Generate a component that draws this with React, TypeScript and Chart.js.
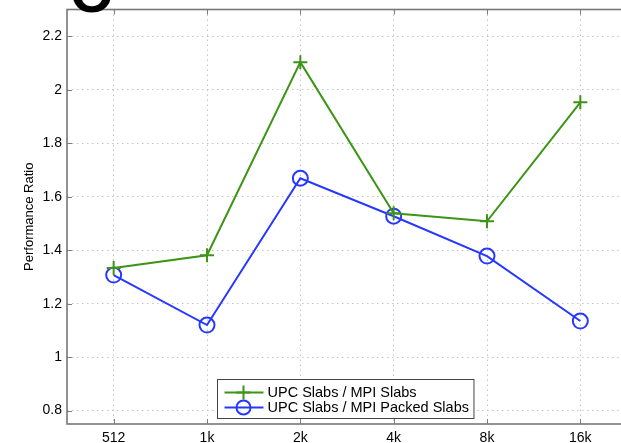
import { useEffect, useRef } from "react";
import { Chart, registerables } from "chart.js";
Chart.register(...registerables);

const categories = ["512", "1k", "2k", "4k", "8k", "16k"];
const upcVsMpiSlabs = [1.333, 1.381, 2.103, 1.538, 1.508, 1.953];
const upcVsMpiPackedSlabs = [1.307, 1.12, 1.669, 1.527, 1.378, 1.135];
const yTicks = [0.8, 1, 1.2, 1.4, 1.6, 1.8, 2, 2.2];
const seriesNames = ["UPC Slabs / MPI Slabs", "UPC Slabs / MPI Packed Slabs"];
const yTitle = "Performance Ratio";
const yMin = 0.75;
const yMax = 2.3;

const GREEN = "#3d9416";
const BLUE = "#2638ff";
const FONT = '"Liberation Sans", Arial, Helvetica, sans-serif';

const CW = 680;
const CH = 470;

const framePlugin = {
  id: "frame",
  beforeDatasetsDraw(chart: any) {
    const { ctx, chartArea: a } = chart;
    const xs = chart.scales.x;
    const ys = chart.scales.y;
    ctx.save();
    ctx.strokeStyle = "#7c7c7c";
    ctx.lineWidth = 1;
    ctx.beginPath();
    xs.ticks.forEach((_t: any, i: number) => {
      const px = Math.round(xs.getPixelForTick(i)) + 0.5;
      ctx.moveTo(px, a.bottom);
      ctx.lineTo(px, a.bottom - 5);
      ctx.moveTo(px, a.top);
      ctx.lineTo(px, a.top + 5);
    });
    ys.ticks.forEach((_t: any, i: number) => {
      const py = Math.round(ys.getPixelForTick(i)) + 0.5;
      ctx.moveTo(a.left, py);
      ctx.lineTo(a.left + 5, py);
      ctx.moveTo(a.right, py);
      ctx.lineTo(a.right - 5, py);
    });
    ctx.stroke();
    ctx.lineWidth = 1.6;
    ctx.strokeStyle = "#777777";
    ctx.strokeRect(a.left, a.top, a.right - a.left, a.bottom - a.top);
    ctx.restore();
  },
  afterDraw(chart: any) {
    const { ctx, chartArea: a } = chart;
    ctx.save();
    // legend
    const fs = 14.5;
    ctx.font = `${fs}px ${FONT}`;
    const tw = Math.max(...seriesNames.map((s) => ctx.measureText(s).width));
    const boxW = 50 + tw + 5;
    const boxH = 39;
    const cx = (a.left + a.right) / 2 - 2;
    const bx = Math.round(cx - boxW / 2) + 0.5;
    const by = Math.round(a.bottom - 6 - boxH) + 0.5;
    ctx.fillStyle = "#ffffff";
    ctx.fillRect(bx, by, boxW, boxH);
    ctx.strokeStyle = "#444444";
    ctx.lineWidth = 1;
    ctx.strokeRect(bx, by, boxW, boxH);
    const rows = [by + 13, by + 28];
    const colors = [GREEN, BLUE];
    rows.forEach((ry, i) => {
      ctx.strokeStyle = colors[i];
      ctx.lineWidth = 2;
      ctx.beginPath();
      ctx.moveTo(bx + 7, ry);
      ctx.lineTo(bx + 46, ry);
      ctx.stroke();
      const mx = bx + 26;
      ctx.beginPath();
      if (i === 0) {
        ctx.moveTo(mx - 7, ry);
        ctx.lineTo(mx + 7, ry);
        ctx.moveTo(mx, ry - 7);
        ctx.lineTo(mx, ry + 7);
      } else {
        ctx.arc(mx, ry, 7, 0, Math.PI * 2);
      }
      ctx.stroke();
      ctx.fillStyle = "#000000";
      ctx.textBaseline = "middle";
      ctx.textAlign = "left";
      ctx.fillText(seriesNames[i], bx + 50, ry + 0.5);
    });
    // clipped heading glyph at top
    ctx.fillStyle = "#000000";
    ctx.font = `bold 56px ${FONT}`;
    ctx.textAlign = "center";
    ctx.textBaseline = "alphabetic";
    ctx.fillText("O", a.left + 25, 12);
    ctx.restore();
  },
};

export default function App() {
  const ref = useRef<HTMLCanvasElement | null>(null);
  useEffect(() => {
    if (!ref.current) return;
    const chart = new Chart(ref.current, {
      type: "line",
      data: {
        labels: categories,
        datasets: [
          {
            label: seriesNames[0],
            data: upcVsMpiSlabs,
            borderColor: GREEN,
            backgroundColor: GREEN,
            borderWidth: 2,
            pointStyle: "cross",
            pointRadius: 7,
            pointBorderWidth: 2,
            pointBorderColor: GREEN,
            tension: 0,
          },
          {
            label: seriesNames[1],
            data: upcVsMpiPackedSlabs,
            borderColor: BLUE,
            backgroundColor: "rgba(0,0,0,0)",
            borderWidth: 2,
            pointStyle: "circle",
            pointRadius: 7.5,
            pointBorderWidth: 2,
            pointBorderColor: BLUE,
            pointBackgroundColor: "rgba(0,0,0,0)",
            tension: 0,
          },
        ],
      },
      options: {
        responsive: false,
        animation: false,
        devicePixelRatio: 1,
        layout: { padding: { left: 0, top: 6, right: CW - 627, bottom: 0 } },
        plugins: { legend: { display: false }, tooltip: { enabled: false } },
        scales: {
          x: {
            type: "category",
            offset: true,
            grid: { color: "#c4c4c4", lineWidth: 1, drawTicks: false, offset: false },
            border: { display: false, dash: [1.5, 3.5] },
            ticks: { color: "#000", font: { family: FONT, size: 14 }, padding: 6, maxRotation: 0 },
            afterFit(scale: any) {
              scale.height = CH - 424;
              scale.paddingLeft = 0;
              scale.paddingRight = 0;
            },
          },
          y: {
            type: "linear",
            min: yMin,
            max: yMax,
            grid: { color: "#c4c4c4", lineWidth: 1, drawTicks: false },
            border: { display: false, dash: [1.5, 3.5] },
            ticks: {
              color: "#000",
              font: { family: FONT, size: 14 },
              padding: 5,
              callback: (v: any) => String(v),
            },
            afterBuildTicks(scale: any) {
              scale.ticks = yTicks.map((v) => ({ value: v }));
            },
            title: {
              display: true,
              text: yTitle,
              color: "#000",
              font: { family: FONT, size: 13 },
              padding: { top: 22, bottom: 0 },
            },
            afterFit(scale: any) {
              scale.width = 67;
              scale.paddingTop = 0;
              scale.paddingBottom = 0;
            },
          },
        },
      },
      plugins: [framePlugin],
    } as any);
    return () => chart.destroy();
  }, []);
  return (
    <div
      style={{
        position: "fixed",
        left: 0,
        top: 0,
        width: 621,
        height: 443,
        overflow: "hidden",
        background: "#fff",
      }}
    >
      <canvas ref={ref} width={CW} height={CH} style={{ display: "block" }} />
    </div>
  );
}
